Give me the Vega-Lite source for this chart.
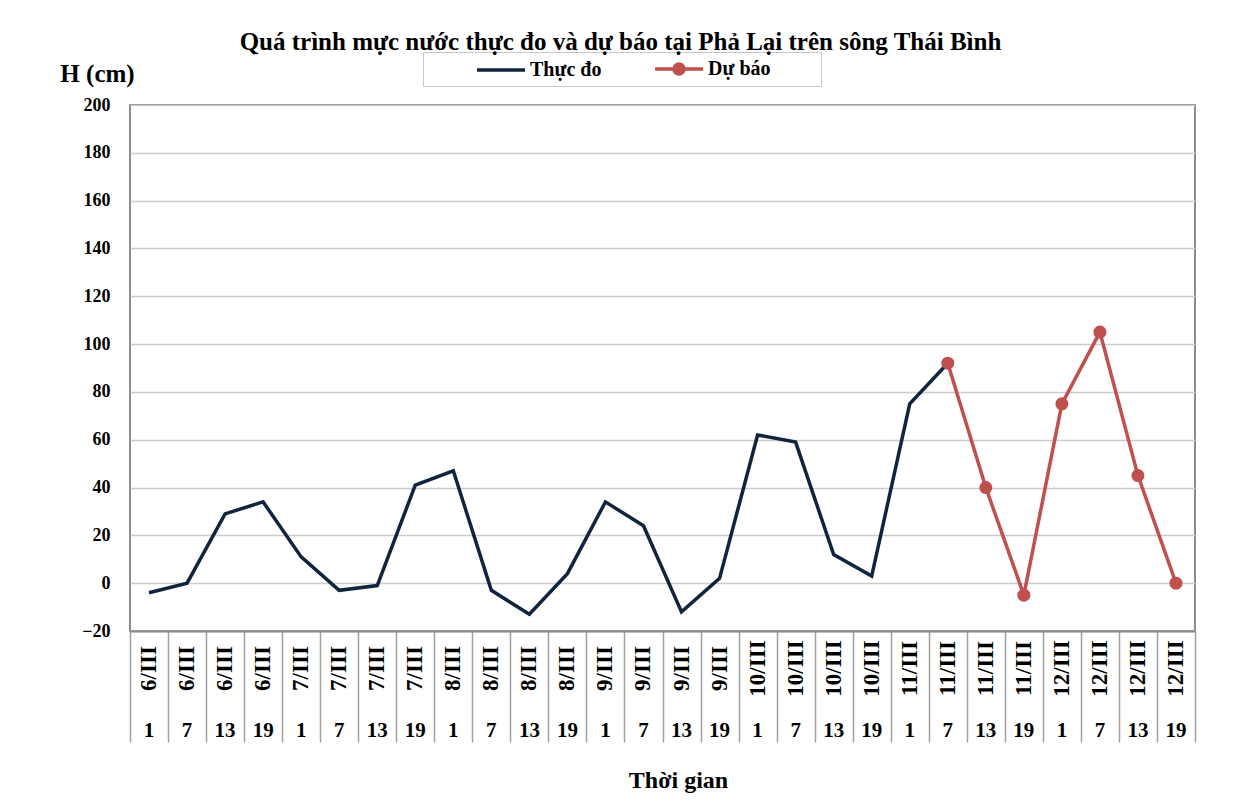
{
  "$schema": "https://vega.github.io/schema/vega-lite/v6.json",
  "autosize": {"type": "none"},
  "padding": {"left": 130, "top": 105, "right": 62, "bottom": 176},
  "width": 1065,
  "height": 526,
  "background": "white",
  "config": {
    "font": "Liberation Serif",
    "view": {"stroke": "#8c8c8c", "strokeWidth": 2},
    "axis": {"labelFont": "Liberation Serif", "titleFont": "Liberation Serif", "labelFontWeight": "bold", "titleFontWeight": "bold", "labelColor": "black", "titleColor": "black"}
  },
  "title": {
    "text": "Quá trình mực nước thực đo và dự báo tại Phả Lại trên sông Thái Bình",
    "font": "Liberation Serif",
    "fontSize": 25,
    "fontWeight": "bold",
    "color": "black",
    "anchor": "middle",
    "dx": -42,
    "dy": 3,
    "offset": 0
  },
  "data": {
    "values": [
      {"t": "6/III 1", "obs": -4, "fc": null},
      {"t": "6/III 7", "obs": 0, "fc": null},
      {"t": "6/III 13", "obs": 29, "fc": null},
      {"t": "6/III 19", "obs": 34, "fc": null},
      {"t": "7/III 1", "obs": 11, "fc": null},
      {"t": "7/III 7", "obs": -3, "fc": null},
      {"t": "7/III 13", "obs": -1, "fc": null},
      {"t": "7/III 19", "obs": 41, "fc": null},
      {"t": "8/III 1", "obs": 47, "fc": null},
      {"t": "8/III 7", "obs": -3, "fc": null},
      {"t": "8/III 13", "obs": -13, "fc": null},
      {"t": "8/III 19", "obs": 4, "fc": null},
      {"t": "9/III 1", "obs": 34, "fc": null},
      {"t": "9/III 7", "obs": 24, "fc": null},
      {"t": "9/III 13", "obs": -12, "fc": null},
      {"t": "9/III 19", "obs": 2, "fc": null},
      {"t": "10/III 1", "obs": 62, "fc": null},
      {"t": "10/III 7", "obs": 59, "fc": null},
      {"t": "10/III 13", "obs": 12, "fc": null},
      {"t": "10/III 19", "obs": 3, "fc": null},
      {"t": "11/III 1", "obs": 75, "fc": null},
      {"t": "11/III 7", "obs": 92, "fc": 92},
      {"t": "11/III 13", "obs": null, "fc": 40},
      {"t": "11/III 19", "obs": null, "fc": -5},
      {"t": "12/III 1", "obs": null, "fc": 75},
      {"t": "12/III 7", "obs": null, "fc": 105},
      {"t": "12/III 13", "obs": null, "fc": 45},
      {"t": "12/III 19", "obs": null, "fc": 0}
    ]
  },
  "encoding": {
    "x": {
      "field": "t",
      "type": "ordinal",
      "scale": {
        "type": "band",
        "paddingInner": 0,
        "paddingOuter": 0,
        "domain": ["6/III 1","6/III 7","6/III 13","6/III 19","7/III 1","7/III 7","7/III 13","7/III 19","8/III 1","8/III 7","8/III 13","8/III 19","9/III 1","9/III 7","9/III 13","9/III 19","10/III 1","10/III 7","10/III 13","10/III 19","11/III 1","11/III 7","11/III 13","11/III 19","12/III 1","12/III 7","12/III 13","12/III 19"]
      }
    }
  },
  "layer": [
    {
      "mark": {"type": "line", "strokeWidth": 3.5, "strokeJoin": "miter"},
      "encoding": {
        "x": {
          "field": "t", "type": "ordinal",
          "axis": {
            "orient": "bottom",
            "title": null,
            "labels": false,
            "ticks": true,
            "tickBand": "extent",
            "tickSize": 111,
            "tickColor": "#a0a0a0",
            "tickWidth": 1.5,
            "domain": true,
            "domainColor": "#8c8c8c",
            "domainWidth": 2
          }
        },
        "y": {
          "field": "obs",
          "type": "quantitative",
          "scale": {"domain": [-20, 200], "nice": false},
          "axis": {
            "values": [-20, 0, 20, 40, 60, 80, 100, 120, 140, 160, 180, 200],
            "title": "H (cm)",
            "titleAngle": 0,
            "titleX": -33,
            "titleY": -32,
            "titleAlign": "center",
            "titleBaseline": "middle",
            "titleFontSize": 25,
            "labelFontSize": 18,
            "labelPadding": 20,
            "ticks": false,
            "domain": false,
            "grid": true,
            "gridColor": "#cccccc",
            "gridWidth": 1.5
          }
        },
        "color": {
          "datum": "Thực đo",
          "type": "nominal",
          "scale": {"domain": ["Thực đo", "Dự báo"], "range": ["#10243e", "#c0504d"]},
          "legend": {
            "title": "\u00a0",
            "titleOrient": "left",
            "titlePadding": 61,
            "titleFontSize": 20,
            "orient": "none",
            "direction": "horizontal",
            "legendX": 293,
            "legendY": -53,
            "strokeColor": "#c8c8c8",
            "padding": 5,
            "labelFont": "Liberation Serif",
            "labelFontWeight": "bold",
            "labelFontSize": 20,
            "labelColor": "black",
            "labelExpr": "datum.value === 'Dự báo' ? datum.label + '\u2003\u2003\u00a0\u200b' : datum.label",
            "symbolSize": 400,
            "symbolStrokeWidth": 3.5,
            "columnPadding": 46,
            "labelOffset": 17,
            "encode": {
              "symbols": {
                "update": {
                  "shape": {"signal": "datum.value === 'Dự báo' ? 'M-2.4,0L-0.5,0A0.5,0.5 0 1,1 0.5,0L2.4,0M0.5,0A0.5,0.5 0 1,1 -0.5,0' : 'M-2.4,0L2.4,0'"},
                  "fill": {"signal": "datum.value === 'Dự báo' ? '#c0504d' : 'transparent'"},
                  "fillOpacity": {"value": 1}
                }
              }
            }
          }
        }
      }
    },
    {
      "mark": {"type": "line", "strokeWidth": 3.5, "strokeJoin": "miter"},
      "encoding": {
        "x": {
          "field": "t", "type": "ordinal",
          "axis": {
            "orient": "bottom",
            "title": null,
            "labelExpr": "split(datum.value, ' ')[0]",
            "labelAngle": -90,
            "labelAlign": "center",
            "labelBaseline": "middle",
            "labelFontSize": 23,
            "labelPadding": 37,
            "ticks": false,
            "domain": false
          }
        },
        "y": {"field": "fc", "type": "quantitative"},
        "color": {"datum": "Dự báo", "type": "nominal"}
      }
    },
    {
      "mark": {"type": "point", "filled": true, "size": 170, "opacity": 1},
      "encoding": {
        "x": {
          "field": "t", "type": "ordinal",
          "axis": {
            "orient": "bottom",
            "title": "Thời gian",
            "titleFontSize": 24,
            "titleX": 548,
            "titleY": 149,
            "titleAlign": "center",
            "titleBaseline": "middle",
            "labelExpr": "split(datum.value, ' ')[1]",
            "labelAngle": 0,
            "labelAlign": "center",
            "labelBaseline": "middle",
            "labelFontSize": 21,
            "labelPadding": 99,
            "ticks": false,
            "domain": false
          }
        },
        "y": {"field": "fc", "type": "quantitative"},
        "color": {"datum": "Dự báo", "type": "nominal"}
      }
    }
  ],
  "resolve": {"axis": {"x": "independent"}}
}
